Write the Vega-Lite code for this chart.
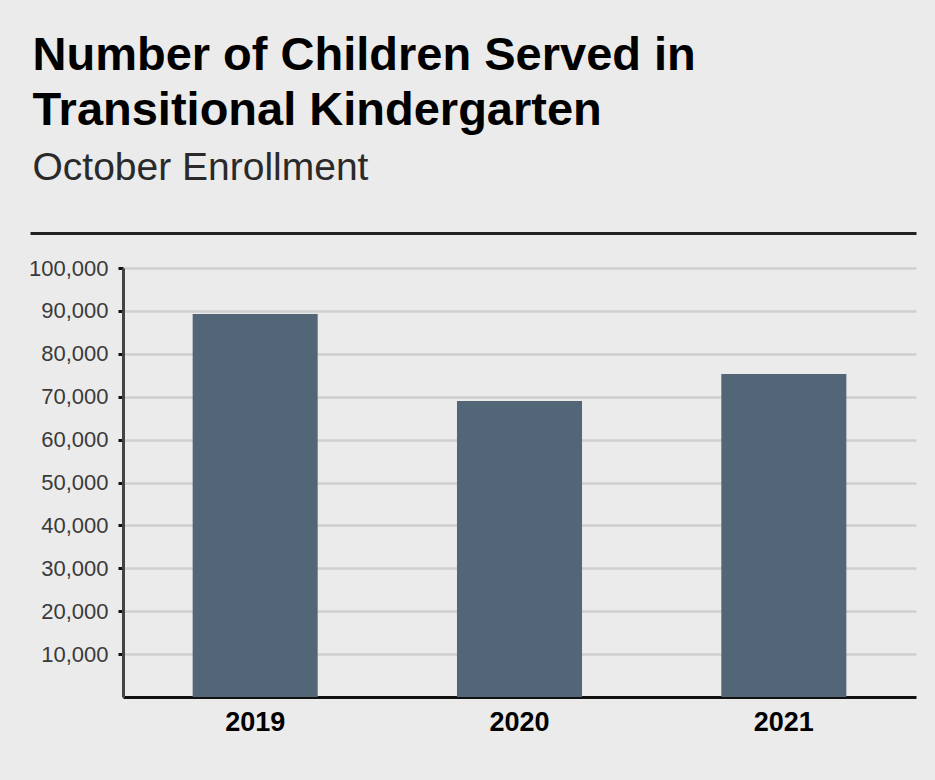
{
  "$schema": "https://vega.github.io/schema/vega-lite/v6.json",
  "width": 793,
  "height": 429,
  "autosize": {"type": "none"},
  "padding": {"left": 123, "top": 268, "right": 19, "bottom": 83},
  "background": "#ebebeb",
  "title": {
    "text": ["Number of Children Served in", "Transitional Kindergarten"],
    "subtitle": "October Enrollment",
    "anchor": "start",
    "frame": "bounds",
    "dx": 4,
    "offset": 44,
    "font": "Liberation Sans",
    "fontSize": 47,
    "fontWeight": "bold",
    "color": "#000000",
    "lineHeight": 55,
    "subtitleFont": "Liberation Sans",
    "subtitleFontSize": 39,
    "subtitleColor": "#2a2a2a",
    "subtitlePadding": 14
  },
  "data": {
    "values": [
      {"year": "2019", "children": 89300},
      {"year": "2020", "children": 69000},
      {"year": "2021", "children": 75300}
    ]
  },
  "layer": [
    {
      "mark": {"type": "bar", "color": "#536678"},
      "encoding": {
        "x": {
          "field": "year",
          "type": "ordinal",
          "scale": {"paddingInner": 0.527, "paddingOuter": 0.2635},
          "axis": {
            "title": null,
            "labelAngle": 0,
            "labelFont": "Liberation Sans",
            "labelFontSize": 27,
            "labelFontWeight": "bold",
            "labelColor": "#000000",
            "labelPadding": 12,
            "ticks": false,
            "domainColor": "#111111",
            "domainWidth": 3,
            "grid": false
          }
        },
        "y": {
          "field": "children",
          "type": "quantitative",
          "scale": {"domain": [0, 100000], "nice": false},
          "axis": {
            "title": null,
            "values": [10000, 20000, 30000, 40000, 50000, 60000, 70000, 80000, 90000, 100000],
            "format": ",d",
            "labelFont": "Liberation Sans",
            "labelFontSize": 22,
            "labelColor": "#3a3a3a",
            "labelPadding": 10,
            "tickSize": 5,
            "tickWidth": 3,
            "tickColor": "#111111",
            "domainColor": "#444444",
            "domainWidth": 3,
            "grid": true,
            "gridColor": "#cfcfcf",
            "gridWidth": 2.5
          }
        }
      }
    },
    {
      "mark": {"type": "point", "opacity": 0},
      "encoding": {
        "x": {
          "field": "year",
          "type": "ordinal",
          "scale": {"type": "point", "range": [-93, 793]},
          "axis": {
            "orient": "top",
            "offset": 35,
            "title": null,
            "labels": false,
            "ticks": false,
            "grid": false,
            "domainColor": "#222222",
            "domainWidth": 3
          }
        },
        "y": {"field": "children", "type": "quantitative"}
      }
    }
  ],
  "resolve": {"scale": {"x": "independent"}, "axis": {"x": "independent"}},
  "config": {
    "view": {"stroke": null},
    "axis": {"labelFlush": false, "labelOverlap": false}
  }
}
